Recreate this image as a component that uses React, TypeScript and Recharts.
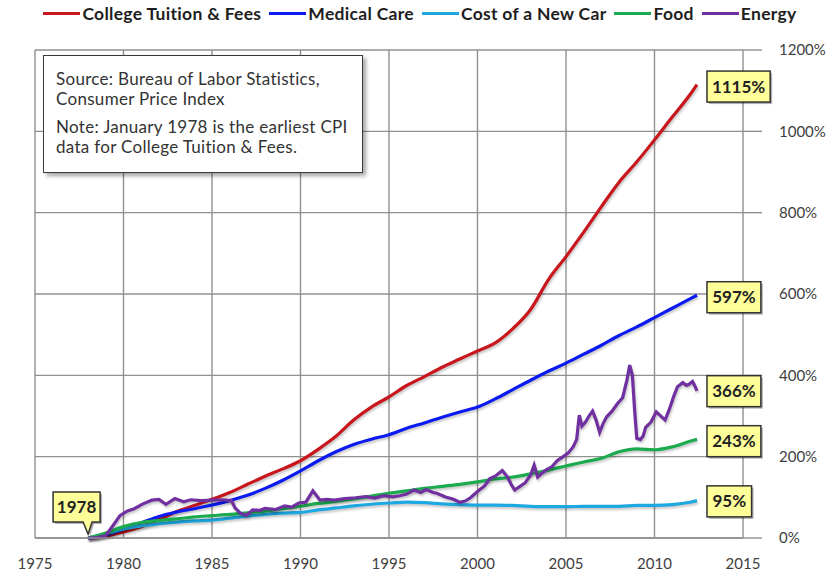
import {
  LineChart,
  Line,
  XAxis,
  YAxis,
  CartesianGrid,
  ReferenceDot,
} from "recharts";

// CPI change since January 1978, in percent
const years = [
  1978, 1979, 1980, 1981, 1982, 1983, 1984, 1985, 1986, 1987, 1988, 1989,
  1990, 1991, 1992, 1993, 1994, 1995, 1996, 1997, 1998, 1999, 2000, 2001,
  2002, 2003, 2004, 2005, 2006, 2007, 2008, 2009, 2010, 2011, 2012, 2012.4,
];

const tuition = [
  0, 5, 15, 28, 45, 65, 80, 95, 112, 132, 152, 170, 190, 218, 250, 290, 322,
  347, 375, 397, 420, 440, 460, 480, 515, 562, 635, 692, 752, 815, 875, 925,
  979, 1035, 1090, 1115,
];

const medical = [
  0, 8, 22, 37, 53, 64, 72, 81, 92, 105, 122, 142, 165, 190, 212, 230, 243,
  254, 270, 283, 297, 310, 322, 342, 365, 388, 410, 430, 452, 474, 498, 519,
  542, 565, 588, 597,
];

const newCar = [
  0, 10, 22, 30, 35, 39, 42, 44, 49, 54, 58, 61, 63, 69, 74, 79, 83, 86, 88,
  87, 84, 82, 81, 81, 80, 78, 77, 77, 78, 78, 78, 80, 80, 82, 88, 92,
];

const food = [
  0, 12, 28, 38, 43, 47, 52, 55, 58, 62, 66, 72, 78, 85, 90, 96, 103, 110,
  116, 122, 127, 132, 138, 145, 150, 158, 167, 177, 187, 196, 212, 219, 217,
  224, 238, 243,
];

const energyYears = [
  1978, 1978.5, 1979, 1979.4, 1979.8, 1980.2, 1980.6, 1981.1, 1981.6, 1982,
  1982.4, 1982.9, 1983.4, 1983.8, 1984.4, 1985, 1985.6, 1986.1, 1986.3, 1986.6,
  1986.95, 1987.3, 1987.7, 1988, 1988.6, 1989.1, 1989.5, 1989.9, 1990.3,
  1990.7, 1991.1, 1991.5, 1991.9, 1992.5, 1993.1, 1993.7, 1994.2, 1994.7,
  1995.2, 1995.6, 1996, 1996.4, 1996.8, 1997.1, 1997.5, 1997.7, 1998.2, 1998.6,
  1999, 1999.3, 1999.6, 2000.1, 2000.4, 2000.7, 2001, 2001.4, 2001.7, 2001.9,
  2002.1, 2002.4, 2002.7, 2003, 2003.2, 2003.4, 2003.6, 2003.9, 2004.2, 2004.5,
  2004.8, 2005.1, 2005.4, 2005.6, 2005.75, 2005.9, 2006.1, 2006.3, 2006.5,
  2006.7, 2006.9, 2007.1, 2007.3, 2007.6, 2007.9, 2008.2, 2008.45, 2008.6,
  2008.75, 2008.9, 2009, 2009.2, 2009.35, 2009.5, 2009.8, 2010.1, 2010.3,
  2010.6, 2010.85, 2011.1, 2011.3, 2011.6, 2011.8, 2011.95, 2012.15, 2012.3,
  2012.4,
];

const energy = [
  0, 1, 6, 30, 55, 66, 72, 84, 93, 95, 83, 97, 89, 94, 92, 93, 94, 92, 74, 61,
  56, 69, 68, 73, 70, 79, 76, 86, 88, 116, 93, 95, 93, 97, 99, 102, 98, 104,
  101, 104, 108, 118, 112, 119, 112, 110, 101, 96, 88, 91, 99, 118, 128, 146,
  152, 166, 150, 132, 118, 127, 136, 155, 179, 150, 158, 168, 175, 190, 199,
  208, 224, 242, 302, 275, 285, 300, 312, 290, 260, 282, 298, 312, 330, 345,
  390, 425, 400, 300, 245, 242, 250, 272, 285, 310, 302, 290, 318, 350, 372,
  382, 375, 378, 385, 372, 362,
];

const xTicks = [1975, 1980, 1985, 1990, 1995, 2000, 2005, 2010, 2015];
const yTicks = [0, 200, 400, 600, 800, 1000, 1200];

const seriesNames = [
  "College Tuition & Fees",
  "Medical Care",
  "Cost of a New Car",
  "Food",
  "Energy",
];
const seriesColors = ["#C8161D", "#0A1AF0", "#1EA8E2", "#1BAA4E", "#7030A0"];
const endLabels = [1115, 597, 95, 243, 366];

const endYear = 2012.4;
const FONT = "Lato, Carlito, Calibri, 'Noto Sans', sans-serif";
const GRID = "#909090";

const toRows = (xs: number[], vs: number[]) =>
  xs.map((year, i) => ({ year, v: vs[i] }));

const seriesData = [
  toRows(years, tuition),
  toRows(years, medical),
  toRows(years, newCar),
  toRows(years, food),
  toRows(energyYears, energy),
];

const lineShadow = { filter: "drop-shadow(1px 2px 1px rgba(0,0,0,0.22))" };

function EndTag({ cx, cy, text }: { cx: number; cy: number; text: string }) {
  const digits = text.length - 1;
  const w = digits * 9.3 + 26;
  const h = 31;
  const x = cx + 10;
  const y = cy + 2 - h / 2;
  return (
    <g>
      <rect x={x + 2} y={y + 2} width={w} height={h} fill="rgba(0,0,0,0.3)" />
      <rect
        x={x}
        y={y}
        width={w}
        height={h}
        fill="#FFFF99"
        stroke="#333"
        strokeWidth={1.5}
      />
      <text
        x={x + w / 2}
        y={y + h / 2 + 6}
        textAnchor="middle"
        fontFamily={FONT}
        fontWeight={700}
        fontSize={17}
        fill="#222"
      >
        {text}
      </text>
    </g>
  );
}

function StartTag({ cx, cy }: { cx: number; cy: number }) {
  const left = cx - 35;
  const right = cx + 12;
  const top = cy - 46;
  const bottom = cy - 16;
  const path = `M${left},${top} H${right} V${bottom} H${cx + 4} L${cx},${cy - 4} L${cx - 5},${bottom} H${left} Z`;
  return (
    <g>
      <path d={path} fill="rgba(0,0,0,0.3)" transform="translate(2,2)" />
      <path d={path} fill="#FFFF99" stroke="#333" strokeWidth={1.5} />
      <text
        x={(left + right) / 2}
        y={(top + bottom) / 2 + 6}
        textAnchor="middle"
        fontFamily={FONT}
        fontWeight={700}
        fontSize={17}
        fill="#222"
      >
        1978
      </text>
    </g>
  );
}

export default function App() {
  return (
    <div
      style={{
        position: "absolute",
        left: 0,
        top: 0,
        width: 840,
        height: 573,
        background: "#fff",
        fontFamily: FONT,
      }}
    >
      <LineChart
        width={840}
        height={573}
        margin={{ top: 50, right: 0, bottom: 0, left: 35 }}
      >
        <CartesianGrid stroke={GRID} strokeWidth={1.4} />
        <XAxis
          dataKey="year"
          type="number"
          domain={[1975, 2015]}
          ticks={xTicks}
          interval={0}
          height={35}
          tickLine={false}
          tickSize={8}
          tickMargin={12}
          axisLine={{ stroke: GRID, strokeWidth: 1.4 }}
          tick={{ fill: "#404040", fontSize: 15, fontFamily: FONT }}
          allowDataOverflow
        />
        <YAxis
          orientation="right"
          type="number"
          domain={[0, 1200]}
          ticks={yTicks}
          interval={0}
          width={97}
          axisLine={false}
          tickLine={{ stroke: GRID, strokeWidth: 1.4 }}
          tickSize={19}
          tickMargin={17}
          tickFormatter={(v) => `${v}%`}
          tick={{
            fill: "#404040",
            fontSize: 15,
            fontFamily: FONT,
            textAnchor: "start",
          }}
        />
        {seriesData.map((rows, i) => (
          <Line
            key={seriesNames[i]}
            data={rows}
            dataKey="v"
            name={seriesNames[i]}
            type={i === 4 ? "linear" : "monotone"}
            stroke={seriesColors[i]}
            strokeWidth={3.2}
            dot={false}
            activeDot={false}
            isAnimationActive={false}
            style={lineShadow}
          />
        ))}
        {endLabels.map((val, i) => (
          <ReferenceDot
            key={`tag-${i}`}
            x={endYear}
            y={val}
            r={1}
            ifOverflow="visible"
            shape={(p: any) => (
              <EndTag cx={p.cx} cy={p.cy} text={`${val}%`} />
            )}
          />
        ))}
        <ReferenceDot
          x={1978}
          y={0}
          r={1}
          ifOverflow="visible"
          shape={(p: any) => <StartTag cx={p.cx} cy={p.cy} />}
        />
      </LineChart>

      {/* legend */}
      <div
        style={{
          position: "absolute",
          left: 0,
          top: 2,
          width: 840,
          display: "flex",
          justifyContent: "center",
          alignItems: "center",
          fontWeight: 700,
          fontSize: 17.5,
          letterSpacing: 0.3,
          color: "#1e1e1e",
          height: 22,
        }}
      >
        {seriesNames.map((name, i) => (
          <div
            key={name}
            style={{
              display: "flex",
              alignItems: "center",
              marginRight: i < seriesNames.length - 1 ? 8 : 0,
            }}
          >
            <span
              style={{
                display: "inline-block",
                width: 37,
                height: 3,
                background: seriesColors[i],
                marginRight: 2,
              }}
            />
            <span>{name}</span>
          </div>
        ))}
      </div>

      {/* source note */}
      <div
        style={{
          position: "absolute",
          left: 43,
          top: 55,
          width: 320,
          height: 118,
          boxSizing: "border-box",
          border: "1.5px solid #3a3a3a",
          background: "#fff",
          boxShadow: "3px 3px 4px rgba(0,0,0,0.35)",
          padding: "0 0 0 12px",
          fontSize: 17,
          letterSpacing: 0.3,
          color: "#333",
          lineHeight: "20px",
          whiteSpace: "nowrap",
        }}
      >
        <div style={{ marginTop: 13 }}>
          Source: Bureau of Labor Statistics,
          <br />
          Consumer Price Index
        </div>
        <div style={{ marginTop: 8 }}>
          Note: January 1978 is the earliest CPI
          <br />
          data for College Tuition &amp; Fees.
        </div>
      </div>
    </div>
  );
}
